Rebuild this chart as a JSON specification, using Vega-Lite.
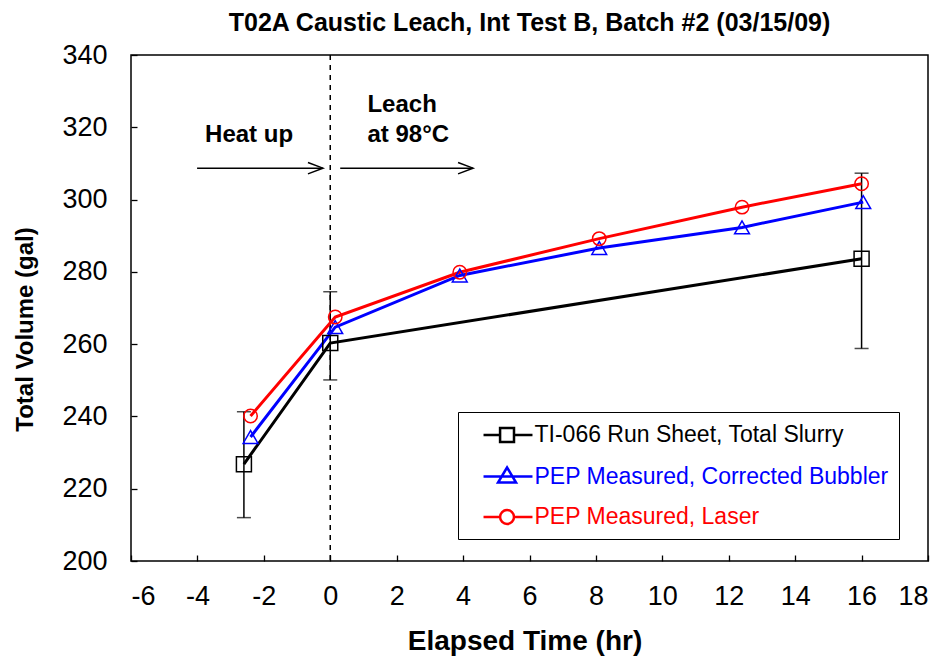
{
  "$schema": "https://vega.github.io/schema/vega-lite/v6.json",
  "width": 797,
  "height": 506,
  "autosize": {"type": "none"},
  "padding": {"left": 131, "top": 55, "right": 15, "bottom": 99},
  "background": "white",
  "config": {
    "font": "Liberation Sans",
    "view": {"stroke": "black", "strokeWidth": 1.5},
    "axis": {"grid": false, "domain": false, "labelFont": "Liberation Sans", "labelColor": "black", "titleFont": "Liberation Sans", "titleColor": "black", "tickColor": "black", "tickWidth": 1.3}
  },
  "title": {
    "text": "T02A Caustic Leach, Int Test B, Batch #2 (03/15/09)",
    "fontSize": 25,
    "fontWeight": "bold",
    "font": "Liberation Sans",
    "color": "black",
    "baseline": "alphabetic",
    "offset": 10,
    "dy": 25
  },
  "datasets": {
    "series": [
      {"series": "TI-066 Run Sheet, Total Slurry", "t": -2.6, "v": 226.8},
      {"series": "TI-066 Run Sheet, Total Slurry", "t": 0.0, "v": 260.3},
      {"series": "TI-066 Run Sheet, Total Slurry", "t": 16.0, "v": 283.6},
      {"series": "PEP Measured, Corrected Bubbler", "t": -2.4, "v": 234.3},
      {"series": "PEP Measured, Corrected Bubbler", "t": 0.15, "v": 264.7},
      {"series": "PEP Measured, Corrected Bubbler", "t": 3.9, "v": 279.0},
      {"series": "PEP Measured, Corrected Bubbler", "t": 8.1, "v": 286.6},
      {"series": "PEP Measured, Corrected Bubbler", "t": 12.4, "v": 292.3},
      {"series": "PEP Measured, Corrected Bubbler", "t": 16.05, "v": 299.3},
      {"series": "PEP Measured, Laser", "t": -2.4, "v": 240.1},
      {"series": "PEP Measured, Laser", "t": 0.15, "v": 267.5},
      {"series": "PEP Measured, Laser", "t": 3.9, "v": 279.9},
      {"series": "PEP Measured, Laser", "t": 8.1, "v": 289.2},
      {"series": "PEP Measured, Laser", "t": 12.4, "v": 297.9},
      {"series": "PEP Measured, Laser", "t": 16.0, "v": 304.4}
    ],
    "errors": [
      {"t": -2.6, "lo": 212.0, "hi": 241.3},
      {"t": 0.0, "lo": 250.1, "hi": 274.5},
      {"t": 16.0, "lo": 258.8, "hi": 307.3}
    ],
    "divider": [{"t": 0}],
    "arrows": [
      {"x1": -4.01, "x2": -0.22, "y": 308.7},
      {"x1": 0.3, "x2": 4.3, "y": 308.7}
    ],
    "notes": [
      {"t": -3.77, "v": 315.9, "label": "Heat up"},
      {"t": 1.12, "v": 324.2, "label": "Leach"},
      {"t": 1.12, "v": 315.9, "label": "at 98°C"}
    ]
  },
  "layer": [
    {
      "data": {"name": "divider"},
      "mark": {"type": "rule", "color": "black", "strokeWidth": 1.5, "strokeDash": [5, 5]},
      "encoding": {
        "x": {"field": "t", "type": "quantitative", "scale": {"domain": [-6, 18], "nice": false},
          "axis": {"values": [-6,-5,-4,-3,-2,-1,0,1,2,3,4,5,6,7,8,9,10,11,12,13,14,15,16,17,18],
            "labelExpr": "datum.value % 2 === 0 ? '' + datum.value : ''",
            "tickSize": -6, "labelPadding": 28, "labelFontSize": 27, "title": "Elapsed Time (hr)",
            "titleFontSize": 28, "titleFontWeight": "bold", "titlePadding": 18, "titleX": 393.5}}
      }
    },
    {
      "data": {"name": "errors"},
      "mark": {"type": "rule", "color": "black", "strokeWidth": 1.5},
      "encoding": {
        "x": {"field": "t", "type": "quantitative"},
        "y": {"field": "lo", "type": "quantitative", "scale": {"domain": [200, 340], "nice": false},
          "axis": {"values": [200,210,220,230,240,250,260,270,280,290,300,310,320,330,340],
            "labelExpr": "datum.value % 20 === 0 ? '' + datum.value : ''",
            "tickSize": -6, "labelPadding": 30, "labelFontSize": 27, "title": "Total Volume (gal)",
            "titleFontSize": 24, "titleFontWeight": "bold", "titlePadding": 24, "titleY": 274}},
        "y2": {"field": "hi"}
      }
    },
    {
      "data": {"name": "errors"},
      "mark": {"type": "tick", "color": "black", "orient": "horizontal", "size": 14, "thickness": 1.5},
      "encoding": {
        "x": {"field": "t", "type": "quantitative"},
        "y": {"field": "lo", "type": "quantitative"}
      }
    },
    {
      "data": {"name": "errors"},
      "mark": {"type": "tick", "color": "black", "orient": "horizontal", "size": 14, "thickness": 1.5},
      "encoding": {
        "x": {"field": "t", "type": "quantitative"},
        "y": {"field": "hi", "type": "quantitative"}
      }
    },
    {
      "data": {"name": "series"},
      "mark": {"type": "line", "strokeWidth": 3},
      "encoding": {
        "x": {"field": "t", "type": "quantitative"},
        "y": {"field": "v", "type": "quantitative"},
        "color": {"field": "series", "type": "nominal",
          "scale": {"domain": ["TI-066 Run Sheet, Total Slurry", "PEP Measured, Corrected Bubbler", "PEP Measured, Laser"],
                    "range": ["#000000", "#0000ff", "#ff0000"]},
          "legend": {
            "title": null,
            "orient": "none",
            "legendX": 327,
            "legendY": 357,
            "direction": "vertical",
            "strokeColor": "black",
            "fillColor": "white",
            "padding": 9.5,
            "rowPadding": 14.5,
            "labelFontSize": 23,
            "labelFont": "Liberation Sans",
            "labelLimit": 500,
            "labelOffset": 40,
            "symbolSize": 576,
            "symbolStrokeWidth": 2.5,
            "symbolFillColor": "transparent",
            "encode": {
              "symbols": {
                "update": {
                  "shape": {"signal": "datum.value === 'TI-066 Run Sheet, Total Slurry' ? 'M0.21,0H1.59M2.75,0H4.29M1.59,-0.58H2.75V0.58H1.59Z' : datum.value === 'PEP Measured, Corrected Bubbler' ? 'M0.21,0H4.29M2.17,-0.75L2.92,0.5H1.42Z' : 'M0.21,0H1.59M2.75,0H4.29M1.59,0A0.58,0.58 0 1,0 2.75,0A0.58,0.58 0 1,0 1.59,0Z'"},
                  "strokeWidth": {"value": 2.5}
                }
              },
              "labels": {
                "update": {
                  "fill": {"signal": "datum.value === 'TI-066 Run Sheet, Total Slurry' ? '#000000' : datum.value === 'PEP Measured, Corrected Bubbler' ? '#0000ff' : '#ff0000'"}
                }
              }
            }
          }
        }
      }
    },
    {
      "data": {"name": "series"},
      "transform": [{"filter": "datum.series === 'TI-066 Run Sheet, Total Slurry'"}],
      "mark": {"type": "point", "filled": false, "strokeWidth": 1.5, "opacity": 1, "shape": "square", "size": 225, "color": "#000000"},
      "encoding": {
        "x": {"field": "t", "type": "quantitative"},
        "y": {"field": "v", "type": "quantitative"}
      }
    },
    {
      "data": {"name": "series"},
      "transform": [{"filter": "datum.series === 'PEP Measured, Corrected Bubbler'"}],
      "mark": {"type": "point", "filled": false, "strokeWidth": 1.5, "opacity": 1, "shape": "triangle-up", "size": 220, "color": "#0000ff"},
      "encoding": {
        "x": {"field": "t", "type": "quantitative"},
        "y": {"field": "v", "type": "quantitative"}
      }
    },
    {
      "data": {"name": "series"},
      "transform": [{"filter": "datum.series === 'PEP Measured, Laser'"}],
      "mark": {"type": "point", "filled": false, "strokeWidth": 1.5, "opacity": 1, "shape": "circle", "size": 180, "color": "#ff0000"},
      "encoding": {
        "x": {"field": "t", "type": "quantitative"},
        "y": {"field": "v", "type": "quantitative"}
      }
    },
    {
      "data": {"name": "arrows"},
      "mark": {"type": "rule", "color": "black", "strokeWidth": 1.5},
      "encoding": {
        "x": {"field": "x1", "type": "quantitative"},
        "x2": {"field": "x2"},
        "y": {"field": "y", "type": "quantitative"}
      }
    },
    {
      "data": {"name": "arrows"},
      "mark": {"type": "point", "filled": false, "color": "black", "strokeWidth": 1.5, "opacity": 1, "size": 900,
        "shape": "M-1,-0.38L0,0L-1,0.38"},
      "encoding": {
        "x": {"field": "x2", "type": "quantitative"},
        "y": {"field": "y", "type": "quantitative"}
      }
    },
    {
      "data": {"name": "notes"},
      "mark": {"type": "text", "align": "left", "baseline": "alphabetic", "fontSize": 24, "fontWeight": "bold", "color": "black", "font": "Liberation Sans"},
      "encoding": {
        "x": {"field": "t", "type": "quantitative"},
        "y": {"field": "v", "type": "quantitative"},
        "text": {"field": "label"}
      }
    }
  ]
}
